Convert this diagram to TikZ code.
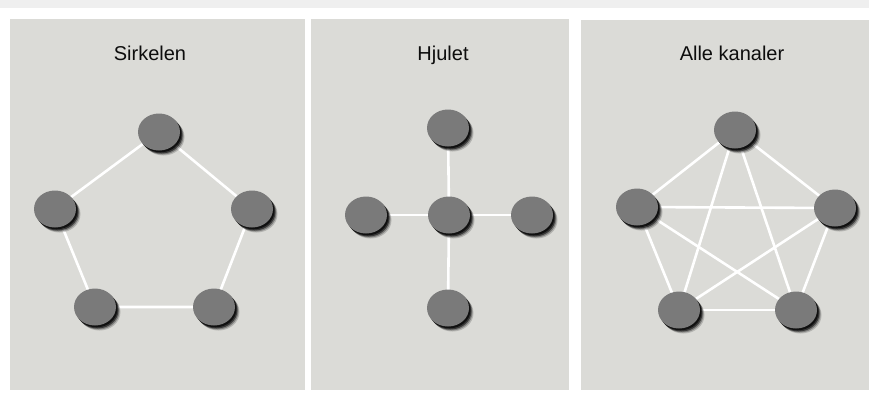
\documentclass[tikz,border=0pt]{standalone}
\usepackage{fontspec}
\setmainfont{Liberation Sans}
\usetikzlibrary{shapes.geometric}
\pgfdeclarelayer{panels}
\pgfdeclarelayer{links}
\pgfsetlayers{panels,links,main}
\definecolor{panelgray}{RGB}{219,219,215}
\definecolor{stripgray}{RGB}{239,239,239}
\definecolor{dotgray}{RGB}{122,122,122}
\tikzset{
  member/.style={ellipse, fill=dotgray, minimum width=42pt, minimum height=37pt, inner sep=0pt,
    preaction={fill=black, fill opacity=.18, transform canvas={shift={(4.5pt,-5pt)}}},
    preaction={fill=black, fill opacity=.30, transform canvas={shift={(3.5pt,-4pt)}}},
    preaction={fill=black, fill opacity=.55, transform canvas={shift={(2.5pt,-3pt)}}},
    preaction={fill=black, fill opacity=.70, transform canvas={shift={(1.5pt,-1.8pt)}}}},
  link/.style={draw=white, line width=2.6pt},
  paneltitle/.style={font=\fontsize{20}{24}\selectfont, text=black!95, anchor=base},
  panelbox/.style={fill=panelgray}
}
\begin{document}
\begin{tikzpicture}[x=1pt,y=-1pt]
\useasboundingbox (0,0) rectangle (869,394);
\begin{pgfonlayer}{panels}
  \fill[white] (0,0) rectangle (869,394);
  \fill[stripgray] (0,0) rectangle (869,8);
  \fill[panelbox] (10,19) rectangle (305,390);
  \fill[panelbox] (311,19) rectangle (569,390);
  \fill[panelbox] (581,20) rectangle (869,390);
\end{pgfonlayer}

% Sirkelen: ring of five
\node[paneltitle] (t1) at (150,60) {Sirkelen};
\node[member] (s1) at (159,132) {};
\node[member] (s2) at (55,209) {};
\node[member] (s3) at (252,209) {};
\node[member] (s4) at (95,307) {};
\node[member] (s5) at (214,307) {};
\begin{pgfonlayer}{links}
  \draw[link] (s1.center) -- (s3.center) -- (s5.center) -- (s4.center) -- (s2.center) -- (s1.center);
\end{pgfonlayer}

% Hjulet: hub and spokes
\node[paneltitle] (t2) at (443,60) {Hjulet};
\node[member] (h0) at (449,215) {};
\node[member] (h1) at (448,128) {};
\node[member] (h2) at (366,215) {};
\node[member] (h3) at (532,215) {};
\node[member] (h4) at (448,308) {};
\begin{pgfonlayer}{links}
  \draw[link] (h1.center) -- (h0.center) -- (h4.center);
  \draw[link] (h2.center) -- (h0.center) -- (h3.center);
\end{pgfonlayer}

% Alle kanaler: complete graph
\node[paneltitle] (t3) at (732,60) {Alle kanaler};
\node[member] (a1) at (735,130) {};
\node[member] (a2) at (637,207) {};
\node[member] (a3) at (835,208) {};
\node[member] (a4) at (679,310) {};
\node[member] (a5) at (796,310) {};
\begin{pgfonlayer}{links}
  \foreach \u/\v in {a1/a2,a1/a3,a1/a4,a1/a5,a2/a3,a2/a4,a2/a5,a3/a4,a3/a5,a4/a5}
    \draw[link] (\u.center) -- (\v.center);
\end{pgfonlayer}
\end{tikzpicture}
\end{document}
